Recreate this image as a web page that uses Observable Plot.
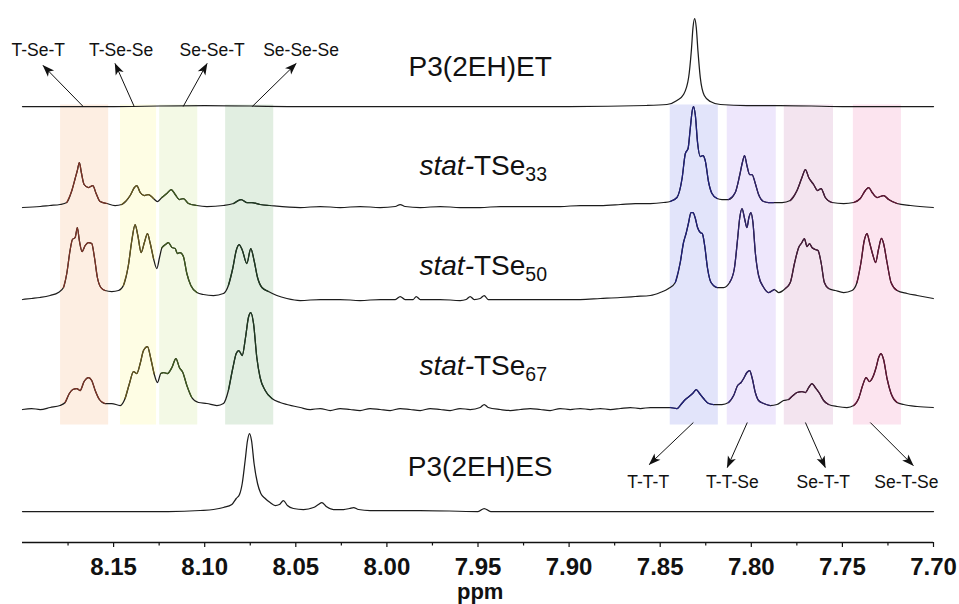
<!DOCTYPE html>
<html>
<head>
<meta charset="utf-8">
<script src="https://cdn.jsdelivr.net/npm/d3@7"></script>
<script src="https://cdn.jsdelivr.net/npm/@observablehq/plot@0.6"></script>
<style>
  html, body { margin: 0; padding: 0; background: #fff; }
  svg { display: block; }
</style>
</head>
<body>
<script>
// ---------- data (ppm, intensity above own baseline) ----------
const seriesNames = ["P3(2EH)ET", "stat-TSe33", "stat-TSe50", "stat-TSe67", "P3(2EH)ES"];
const offsets = [436, 336, 244, 134, 31];

const specET = [[8.2000,0],[8.1500,0],[8.1000,1],[8.0500,0],[8.0000,0],[7.9488,0],[7.9000,0],[7.8573,1],[7.8463,2],[7.8408,6],[7.8372,12],[7.8344,29],[7.8329,56],[7.8320,79],[7.8311,88],[7.8302,79],[7.8293,56],[7.8280,29],[7.8258,11],[7.8225,5],[7.8170,2],[7.8024,1],[7.7841,1],[7.7500,0],[7.7000,0]];

const specTSe33 = [[8.2000,-1],[8.1903,0],[8.1850,1],[8.1794,2],[8.1757,4],[8.1729,16],[8.1711,28],[8.1699,36],[8.1688,44],[8.1677,34],[8.1662,22],[8.1638,19],[8.1614,21],[8.1596,13],[8.1574,5],[8.1537,3],[8.1492,1],[8.1455,2],[8.1409,11],[8.1386,19],[8.1373,21],[8.1354,14],[8.1332,11],[8.1309,12],[8.1281,8],[8.1259,5],[8.1235,9],[8.1208,13],[8.1184,17],[8.1162,12],[8.1139,7],[8.1117,8],[8.1089,3],[8.1043,1],[8.0988,0],[8.0897,1],[8.0842,3],[8.0800,7],[8.0769,4],[8.0741,4],[8.0696,2],[8.0641,1],[8.0476,-1],[8.0366,0],[8.0256,-1],[8.0147,0],[8.0037,-1],[7.9954,0],[7.9927,2],[7.9900,0],[7.9817,-1],[7.9707,0],[7.9598,-1],[7.9488,-1],[7.9378,0],[7.9268,0],[7.9158,0],[7.9049,0],[7.8939,1],[7.8829,1],[7.8719,2],[7.8637,3],[7.8554,3],
  [7.8481,4],[7.8445,5],[7.8408,9],[7.8380,28],[7.8362,53],[7.8347,58],[7.8335,78],[7.8324,96],[7.8317,100],[7.8307,91],[7.8295,64],[7.8280,50],[7.8265,51],[7.8253,46],[7.8234,24],[7.8216,13],[7.8188,8],[7.8161,7],[7.8125,7],[7.8088,14],[7.8064,31],[7.8049,44],[7.8037,51],[7.8024,41],[7.8009,32],[7.7996,32],[7.7978,23],[7.7960,12],[7.7932,5],[7.7905,4],[7.7878,4],[7.7831,4],[7.7786,6],[7.7749,16],[7.7722,29],[7.7703,37],[7.7685,29],[7.7658,22],[7.7636,16],[7.7617,18],[7.7594,9],[7.7557,4],[7.7493,3],[7.7438,4],[7.7402,8],[7.7374,16],[7.7356,19],[7.7337,14],[7.7310,9],[7.7274,11],[7.7246,7],[7.7200,3],[7.7127,1],[7.7001,-1]];

const specTSe50 = [[8.2000,-1],[8.1950,0],[8.1903,1],[8.1848,3],[8.1803,6],[8.1775,11],[8.1757,25],[8.1739,48],[8.1726,59],[8.1711,61],[8.1699,71],[8.1688,58],[8.1673,47],[8.1656,53],[8.1638,56],[8.1620,55],[8.1605,41],[8.1589,21],[8.1570,11],[8.1547,8],[8.1510,7],[8.1473,8],[8.1446,13],[8.1419,33],[8.1400,58],[8.1382,74],[8.1367,63],[8.1349,46],[8.1331,56],[8.1314,65],[8.1300,56],[8.1281,40],[8.1263,30],[8.1248,41],[8.1234,51],[8.1215,54],[8.1199,56],[8.1180,51],[8.1162,50],[8.1150,45],[8.1135,46],[8.1117,42],[8.1098,25],[8.1076,13],[8.1043,6],[8.1007,4],[8.0952,3],[8.0897,5],[8.0870,13],[8.0845,31],[8.0827,48],[8.0811,54],[8.0793,48],[8.0769,35],[8.0747,50],[8.0729,38],[8.0710,21],[8.0686,11],[8.0650,7],[8.0604,3],[8.0549,0],[8.0476,-2],
  [8.0366,-1],[8.0256,-1],[8.0147,-2],[8.0037,-1],[7.9954,-1],[7.9927,2],[7.9900,-1],[7.9856,-1],[7.9839,2],[7.9817,-1],[7.9707,-1],[7.9598,-2],[7.9565,-1],[7.9543,2],[7.9521,-1],[7.9488,0],[7.9466,3],[7.9444,-1],[7.9378,-1],[7.9268,-1],[7.9158,-1],[7.9049,-1],[7.8939,-1],[7.8829,0],[7.8719,1],[7.8637,2],[7.8554,3],
  [7.8500,6],[7.8454,10],[7.8417,16],[7.8390,36],[7.8372,56],[7.8358,65],[7.8344,76],[7.8331,86],[7.8320,86],[7.8307,80],[7.8295,71],[7.8280,66],[7.8269,65],[7.8256,53],[7.8240,30],[7.8221,16],[7.8188,11],[7.8152,11],[7.8119,16],[7.8093,30],[7.8075,60],[7.8064,80],[7.8051,90],[7.8037,80],[7.8024,71],[7.8013,81],[7.8002,86],[7.7991,76],[7.7978,46],[7.7960,23],[7.7932,11],[7.7905,6],[7.7874,9],[7.7850,6],[7.7813,10],[7.7786,16],[7.7762,36],[7.7740,51],[7.7722,56],[7.7709,60],[7.7694,52],[7.7680,55],[7.7667,51],[7.7649,49],[7.7634,48],[7.7617,36],[7.7599,16],[7.7576,10],[7.7539,8],[7.7493,6],[7.7447,8],[7.7420,16],[7.7398,36],[7.7380,58],[7.7365,65],[7.7351,56],[7.7332,43],[7.7318,36],[7.7301,50],[7.7286,60],[7.7274,55],[7.7255,36],[7.7233,16],[7.7200,8],[7.7145,5],[7.7090,3],[7.7001,0]];

const specTSe67 = [[8.2000,-1],[8.1950,0],[8.1903,-1],[8.1848,1],[8.1794,3],[8.1766,6],[8.1743,15],[8.1724,19],[8.1702,20],[8.1684,18],[8.1662,27],[8.1638,31],[8.1620,28],[8.1601,18],[8.1578,9],[8.1547,5],[8.1510,5],[8.1464,3],[8.1437,10],[8.1413,25],[8.1391,37],[8.1373,35],[8.1354,45],[8.1336,58],[8.1314,62],[8.1296,50],[8.1278,35],[8.1259,26],[8.1241,35],[8.1226,36],[8.1205,35],[8.1180,41],[8.1158,50],[8.1139,41],[8.1120,36],[8.1098,23],[8.1071,11],[8.1034,6],[8.0988,5],[8.0933,3],[8.0897,5],[8.0870,18],[8.0845,41],[8.0827,55],[8.0813,58],[8.0794,53],[8.0776,71],[8.0760,91],[8.0747,96],[8.0732,85],[8.0714,51],[8.0696,31],[8.0668,18],[8.0631,10],[8.0586,6],[8.0549,4],[8.0476,1],
  [8.0421,-1],[8.0366,0],[8.0311,-2],[8.0256,0],[8.0202,-1],[8.0147,-2],[8.0092,0],[8.0037,-1],[7.9982,-2],[7.9927,0],[7.9872,-1],[7.9817,-2],[7.9762,0],[7.9707,-1],[7.9653,-2],[7.9598,0],[7.9543,-1],[7.9488,1],[7.9466,4],[7.9444,1],[7.9378,-1],[7.9323,-2],[7.9268,-1],[7.9213,0],[7.9158,-1],[7.9104,-2],[7.9049,0],[7.8994,-1],[7.8939,0],[7.8884,-1],[7.8829,0],[7.8774,-1],[7.8719,0],[7.8664,1],[7.8609,0],[7.8554,1],
  [7.8500,1],[7.8445,1],[7.8408,0],[7.8386,4],[7.8362,9],[7.8335,13],[7.8317,16],[7.8302,19],[7.8284,15],[7.8262,10],[7.8234,5],[7.8207,4],[7.8161,4],[7.8125,6],[7.8097,13],[7.8075,23],[7.8056,26],[7.8042,30],[7.8024,36],[7.8009,38],[7.7996,31],[7.7978,16],[7.7960,8],[7.7932,5],[7.7896,3],[7.7859,4],[7.7823,8],[7.7795,9],[7.7771,13],[7.7749,16],[7.7722,17],[7.7703,16],[7.7685,21],[7.7667,25],[7.7649,21],[7.7625,15],[7.7603,8],[7.7576,4],[7.7529,2],[7.7475,1],[7.7438,3],[7.7411,10],[7.7389,23],[7.7370,31],[7.7352,27],[7.7334,31],[7.7315,41],[7.7301,51],[7.7288,55],[7.7274,49],[7.7255,30],[7.7233,15],[7.7200,6],[7.7164,4],[7.7090,2],[7.7001,1]];

const specES = [[8.2000,0],[8.1800,0],[8.1600,0],[8.1400,0],[8.1200,0],[8.1025,1],[8.0952,2],[8.0897,4],[8.0851,7],[8.0827,13],[8.0809,17],[8.0794,28],[8.0778,51],[8.0765,71],[8.0754,78],[8.0743,71],[8.0729,48],[8.0710,28],[8.0692,18],[8.0668,13],[8.0641,9],[8.0613,6],[8.0590,7],[8.0568,11],[8.0546,6],[8.0513,3],[8.0458,2],[8.0403,4],[8.0376,7],[8.0357,9],[8.0333,5],[8.0293,2],[8.0238,2],[8.0205,3],[8.0183,4],[8.0156,2],[8.0092,1],[7.9982,1],[7.9817,1],[7.9500,0],[7.9466,3],[7.9430,0],[7.9000,0],[7.8500,0],[7.8000,0],[7.7500,0],[7.7000,0]];

const spectra = [specET, specTSe33, specTSe50, specTSe67, specES];

// highlighted ppm bands (left edge, right edge) and colours
const bandLo    = [8.1791, 8.1462, 8.1247, 8.0885, 7.8445, 7.8132, 7.7819, 7.7440];
const bandHi    = [8.1527, 8.1264, 8.1038, 8.0621, 7.8181, 7.7863, 7.7549, 7.7176];
const bandFill  = ["#fdeee2", "#fefde4", "#f3f9e5", "#e1eee1", "#e2e4fa", "#eee7fc", "#f3e4ef", "#fce4ef"];
const bandLine  = ["#7e3325", "#66581c", "#3e5a1e", "#1f3b22", "#1f1f7c", "#2f216f", "#4a1a3c", "#651335"];
const bandBottom = 117.5, bandTop = 437.5;

// annotation labels and arrows
const triadLabels = ["T-Se-T", "T-Se-Se", "Se-Se-T", "Se-Se-Se", "T-T-T", "T-T-Se", "Se-T-T", "Se-T-Se"];
const triadLabelX = [8.1914, 8.1459, 8.0959, 8.0471, 7.8566, 7.8104, 7.7605, 7.7149];
const triadLabelY = [492, 492, 492, 492, 60, 60, 60, 60];
const arrowX1 = [8.1667, 8.1387, 8.1118, 8.0739, 7.8318, 7.8022, 7.7703, 7.7347];
const arrowY1 = [436, 436, 436, 436, 120, 120, 120, 120];
const arrowX2 = [8.1887, 8.1492, 8.0987, 8.0498, 7.8560, 7.8132, 7.7594, 7.7111];
const arrowY2 = [477, 479, 479, 479, 78, 75, 75, 77];

const seriesLabelX = [7.9488, 7.9471, 7.9471, 7.9471, 7.9488];
const seriesLabelY = [475, 376, 276, 176, 75];

const majorTicks = [8.15, 8.10, 8.05, 8.00, 7.95, 7.90, 7.85, 7.80, 7.75, 7.70];
const minorTicks = [8.175, 8.125, 8.075, 8.025, 7.975, 7.925, 7.875, 7.825, 7.775, 7.725];
const xTitle = "ppm";

// ---------- build tables ----------
const rows = [];
spectra.forEach((s, i) => s.forEach(([ppm, v]) => rows.push({series: seriesNames[i], idx: i, ppm, y: offsets[i] + v})));
const bands = bandLo.map((lo, i) => ({lo, hi: bandHi[i], fill: bandFill[i], line: bandLine[i]}));
const triads = triadLabels.map((t, i) => ({t, x: triadLabelX[i], y: triadLabelY[i], x1: arrowX1[i], y1: arrowY1[i], x2: arrowX2[i], y2: arrowY2[i]}));
const seriesLabels = seriesNames.map((n, i) => ({n, x: seriesLabelX[i], y: seriesLabelY[i]}));
const fmt = d3.format(".2f");

const FONT = "'Liberation Sans', Arial, Helvetica, sans-serif";

const colouredMarks = [];
bands.forEach(b => {
  const sub = rows.filter(r => r.idx >= 1 && r.idx <= 3 && r.ppm <= b.lo + 1e-9 && r.ppm >= b.hi - 1e-9);
  colouredMarks.push(Plot.line(sub, {x: "ppm", y: "y", z: "series", stroke: b.line, strokeWidth: 1.25, curve: "monotone-x"}));
});

const svg = Plot.plot({
  width: 959,
  height: 604,
  marginLeft: 22,
  marginRight: 26,
  marginTop: 0,
  marginBottom: 62,
  x: {domain: [8.2, 7.7], axis: null},
  y: {domain: [0, 542], axis: null},
  color: {type: "identity"},
  style: {fontFamily: FONT, background: "#fff", overflow: "visible"},
  marks: [
    Plot.rect(bands, {x1: "lo", x2: "hi", y1: bandBottom, y2: bandTop, fill: "fill"}),
    Plot.line(rows, {x: "ppm", y: "y", z: "series", stroke: "#1c1c1c", strokeWidth: 1.25, curve: "monotone-x"}),
    ...colouredMarks,
    Plot.link(triads, {x1: "x1", y1: "y1", x2: "x2", y2: "y2", stroke: "#111", strokeWidth: 1, markerEnd: "arrow"}),
    Plot.text(triads, {x: "x", y: "y", text: "t", fontSize: 17.5, fill: "#111"}),
    Plot.text(seriesLabels, {x: "x", y: "y", text: "n", fontSize: 28, fill: "#111"}),
    // x axis drawn from tick arrays
    Plot.ruleY([0], {stroke: "#111", strokeWidth: 1.3}),
    Plot.ruleX(majorTicks, {x: d => d, y1: 0, y2: -5, stroke: "#111", strokeWidth: 1.2}),
    Plot.ruleX(minorTicks, {x: d => d, y1: 0, y2: -3.5, stroke: "#111", strokeWidth: 1.2}),
    Plot.text(majorTicks, {x: d => d, y: -24.8, text: d => fmt(d), fontSize: 24, fontWeight: "bold", fill: "#111"}),
    Plot.text([xTitle], {x: 7.9488, y: -49.5, text: d => d, fontSize: 22, fontWeight: "bold", fill: "#111"})
  ]
});

// filled arrowheads
svg.querySelectorAll("marker").forEach(m => {
  m.setAttribute("overflow", "visible");
  m.setAttribute("fill", "#111");
  m.setAttribute("stroke", "none");
  while (m.firstChild) m.removeChild(m.firstChild);
  const p = document.createElementNS("http://www.w3.org/2000/svg", "path");
  p.setAttribute("d", "M1,0L-17,-6.5L-12.5,0L-17,6.5Z");
  m.appendChild(p);
});

// italic "stat-" and subscript numbers
svg.querySelectorAll("text").forEach(t => {
  const m = /^stat-TSe(\d+)$/.exec(t.textContent);
  if (!m) return;
  t.textContent = "";
  const NS = "http://www.w3.org/2000/svg";
  const a = document.createElementNS(NS, "tspan");
  a.setAttribute("font-style", "italic");
  a.textContent = "stat-";
  const b = document.createElementNS(NS, "tspan");
  b.textContent = "TSe";
  const c = document.createElementNS(NS, "tspan");
  c.setAttribute("font-size", "19.5");
  c.setAttribute("dy", "6");
  c.textContent = m[1];
  t.appendChild(a); t.appendChild(b); t.appendChild(c);
});

document.body.appendChild(svg);
</script>
</body>
</html>
